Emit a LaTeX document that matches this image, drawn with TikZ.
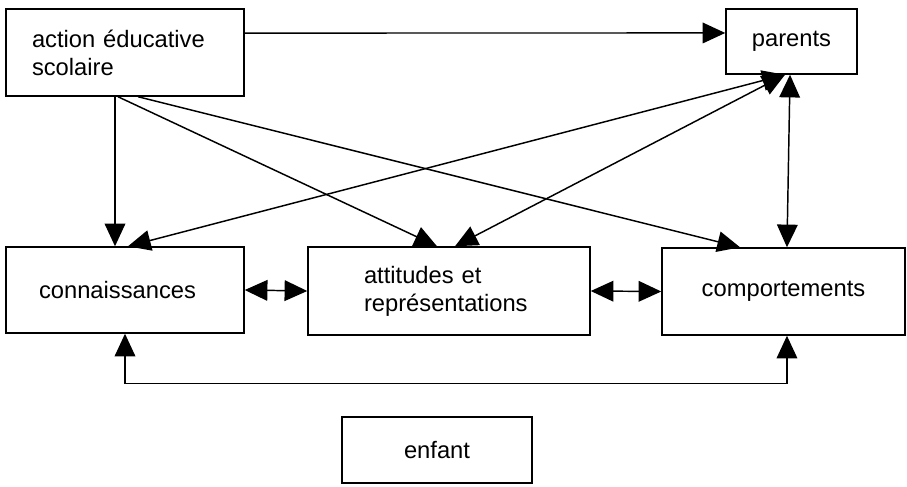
\documentclass[tikz,border=0pt]{standalone}
\usepackage{fontspec}
\setmainfont{Liberation Sans}
\usetikzlibrary{arrows.meta}
\begin{document}
\begin{tikzpicture}
[x=0.75pt,y=-0.75pt,
  boxdecorate/.style={shape=rectangle,draw,line width=1.1pt,inner ysep=0pt,
    font=\fontsize{17.8pt}{21pt}\selectfont},%
  arrowdecorate/.style={line width=1.1pt,-{Triangle[length=17pt,width=15.5pt]}},%
  bothdecorate/.style={line width=1.1pt,{Triangle[length=17pt,width=15.5pt]}-{Triangle[length=17pt,width=15.5pt]}}]
\useasboundingbox (0,0) rectangle (907,486);
% boxes
\node (action) at (125,52.5) [boxdecorate,text width=139.5pt,inner xsep=19.5pt,
  minimum height=65.25pt,align=left] {action éducative\\scolaire};
\node (parents) at (791.5,41.5) [boxdecorate,minimum width=98.25pt,
  minimum height=48.75pt] {parents};
\node (connaissances) at (125,290) [boxdecorate,text width=129pt,inner xsep=24.75pt,
  minimum height=64.5pt,align=left] {connaissances};
\node (attitudes) at (449,291) [boxdecorate,text width=127.5pt,inner xsep=42pt,
  minimum height=66pt,align=left] {attitudes et\\représentations};
\node (comportements) at (783.5,291.5) [boxdecorate,minimum width=182.25pt,
  minimum height=65.25pt] {comportements};
\node (enfant) at (437,450) [boxdecorate,minimum width=142.5pt,
  minimum height=49.5pt] {enfant};
% arrows
\path
([yshift=14.6pt]action.east) edge[arrowdecorate] ([yshift=6.4pt]parents.west)
([xshift=-7.5pt]action.south) edge[arrowdecorate] ([xshift=-7.5pt]connaissances.north)
([xshift=-5.25pt]action.south) edge[arrowdecorate] ([xshift=-9pt]attitudes.north)
([xshift=9.75pt]action.south) edge[arrowdecorate] ([xshift=-32.6pt]comportements.north)
([xshift=-4.9pt]parents.south) edge[bothdecorate] ([xshift=2.25pt]connaissances.north)
([xshift=-4.9pt]parents.south) edge[bothdecorate] ([xshift=4.5pt]attitudes.north)
([xshift=-1.1pt]parents.south) edge[bothdecorate] ([xshift=2.6pt]comportements.north)
(connaissances.east) edge[bothdecorate] (attitudes.west)
(attitudes.east) edge[bothdecorate] (comportements.west);
\draw[bothdecorate] (connaissances.south) -- ++(0,50)
  -| ([xshift=2.6pt]comportements.south);
\end{tikzpicture}
\end{document}
